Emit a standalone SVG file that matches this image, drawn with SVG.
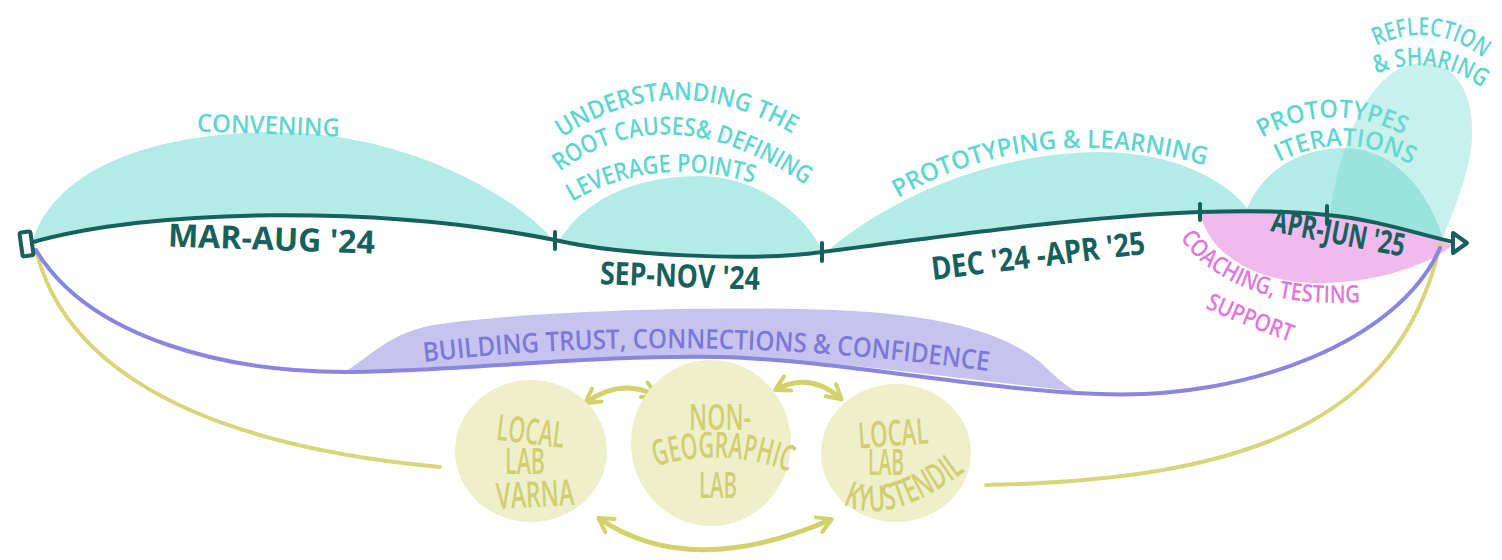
<svg xmlns="http://www.w3.org/2000/svg" width="1502" height="560" viewBox="0 0 1502 560">
<style>
.hand{font-family:"Open Sans","DejaVu Sans",sans-serif;font-weight:600;}
.teal{fill:#5ed6cf;font-size:25px;}
.date{fill:#17605c;font-size:32px;font-weight:700;}
.pink{fill:#e475dc;font-size:24px;}
.purp{fill:#7c78da;font-size:27px;}
.lab{fill:#cfcf72;font-size:36px;text-anchor:middle;}
.hump{fill:#b3ece7;}
.tl{fill:none;stroke:#17605c;stroke-width:4;stroke-linecap:round;}
.tick{stroke:#17605c;stroke-width:4;stroke-linecap:round;}
.yl{fill:none;stroke:#d6d67a;stroke-width:4;stroke-linecap:round;}
.pl{fill:none;stroke:#8a86e0;stroke-width:4;stroke-linecap:round;}
.circ{fill:#efefcc;}
.arr{fill:none;stroke:#d2d26a;stroke-width:5;stroke-linecap:round;stroke-linejoin:round;}
</style>
<defs>
<marker id="ah" viewBox="0 0 10 10" refX="7" refY="5" markerWidth="4" markerHeight="4" orient="auto-start-reverse" markerUnits="strokeWidth">
<path d="M1,1 L8,5 L1,9" fill="none" stroke="#d2d26a" stroke-width="2" stroke-linecap="round" stroke-linejoin="round"/>
</marker>
<path id="p-und1" d="M562,138 Q680,58 812,146"/>
<path id="p-und2" d="M560,172 Q675,85 826,200"/>
<path id="p-und3" d="M572,202 Q660,150 768,188"/>
<path id="p-proto" d="M898,198 Q1040,116 1214,168"/>
<path id="p-pi1" d="M1262,138 Q1332,98 1406,136"/>
<path id="p-pi2" d="M1279,162 Q1346,128 1413,166"/>
<path id="p-ref1" d="M1376,46 Q1436,18 1488,62"/>
<path id="p-ref2" d="M1376,74 Q1436,50 1490,94"/>
<path id="p-coach" d="M1180,238 Q1232,310 1362,302"/>
<path id="p-supp" d="M1205,308 Q1245,326 1296,344"/>
<path id="p-build" d="M424,362 Q700,330 994,372"/>
<path id="p-geo" d="M652,468 Q720,445 793,473"/>
<path id="p-kyu" d="M836,500 Q885,534 972,466"/>
</defs>

<!-- phase humps -->
<g id="convening">
<path class="hump" d="M32,243 C60,150 200,128 300,133 C420,140 520,200 553,240 C380,205 150,208 32,243 Z"/>
<text class="hand teal" x="197" y="134" font-size="27" textLength="143" lengthAdjust="spacingAndGlyphs" transform="rotate(2 268 124)">CONVENING</text>
</g>
<g id="understanding">
<path class="hump" d="M558,242 C590,190 650,176 700,176 C760,177 805,215 822,250 C750,262 620,255 558,242 Z"/>
<text class="hand teal" font-size="23"><textPath href="#p-und1" textLength="245" lengthAdjust="spacingAndGlyphs">UNDERSTANDING THE</textPath></text>
<text class="hand teal" font-size="23"><textPath href="#p-und2" textLength="265" lengthAdjust="spacingAndGlyphs">ROOT CAUSES&amp; DEFINING</textPath></text>
<text class="hand teal" font-size="22"><textPath href="#p-und3" textLength="188" lengthAdjust="spacingAndGlyphs">LEVERAGE POINTS</textPath></text>
</g>
<g id="prototyping">
<path class="hump" d="M826,252 C900,190 1000,153 1100,152 C1180,152 1232,185 1250,212 L1200,212 C1100,215 950,235 826,252 Z"/>
<text class="hand teal" font-size="26"><textPath href="#p-proto" textLength="318" lengthAdjust="spacingAndGlyphs">PROTOTYPING &amp; LEARNING</textPath></text>
</g>
<g id="iterations">
<path class="hump" d="M1246,211 C1262,170 1300,148 1345,148 C1400,149 1432,200 1444,241 C1420,232 1380,220 1327,215 C1300,212 1270,211 1246,211 Z"/>
<text class="hand teal" font-size="26"><textPath href="#p-pi1" textLength="148" lengthAdjust="spacingAndGlyphs">PROTOTYPES</textPath></text>
<text class="hand teal" font-size="26"><textPath href="#p-pi2" textLength="138" lengthAdjust="spacingAndGlyphs">ITERATIONS</textPath></text>
</g>
<g id="reflection">
<path fill="#76dad0" fill-opacity="0.4" d="M1330,216 C1338,150 1368,66 1420,63 C1472,60 1482,128 1464,180 C1456,208 1446,228 1441,243 C1420,234 1380,222 1330,216 Z"/>
<text class="hand teal" font-size="24"><textPath href="#p-ref1" textLength="114" lengthAdjust="spacingAndGlyphs">REFLECTION</textPath></text>
<text class="hand teal" font-size="24"><textPath href="#p-ref2" textLength="112" lengthAdjust="spacingAndGlyphs">&amp; SHARING</textPath></text>
</g>
<g id="coaching">
<path fill="#f0bbec" d="M1200,212 C1210,262 1270,286 1330,283 C1400,279 1440,256 1453,245 C1420,234 1380,220 1327,215 C1300,212 1260,210 1200,212 Z"/>
<text class="hand pink"><textPath href="#p-coach" textLength="200" lengthAdjust="spacingAndGlyphs">COACHING, TESTING</textPath></text>
<text class="hand pink"><textPath href="#p-supp" textLength="92" lengthAdjust="spacingAndGlyphs">SUPPORT</textPath></text>
</g>
<g id="trust">
<path fill="#c6c4ef" d="M345,372 C375,352 395,330 440,324 C550,308 800,304 890,314 C965,322 1010,338 1040,362 C1055,376 1065,386 1076,391 C980,382 840,360 720,357 C600,354 450,372 345,372 Z"/>
<text class="hand purp"><textPath href="#p-build" textLength="566" lengthAdjust="spacingAndGlyphs">BUILDING  TRUST, CONNECTIONS  &amp; CONFIDENCE</textPath></text>
</g>

<!-- connectors -->
<g id="connectors">
<path class="yl" d="M36,250 C58,340 150,440 440,467"/>
<path class="yl" d="M986,485 C1250,480 1400,420 1440,245"/>
<path class="pl" d="M36,250 C90,340 230,372 345,372 C450,372 600,354 720,357 C840,360 980,390 1100,394 C1250,400 1400,340 1440,248"/>
<path class="tl" d="M30,243 C150,208 380,205 555,240 C620,255 750,262 822,252 C950,235 1100,215 1200,212 C1260,210 1300,212 1327,215 C1380,220 1420,235 1458,243"/>
<line class="tick" x1="555" y1="232" x2="555" y2="249"/>
<line class="tick" x1="822" y1="243" x2="822" y2="261"/>
<line class="tick" x1="1200" y1="204" x2="1200" y2="220"/>
<line class="tick" x1="1327" y1="206" x2="1327" y2="224"/>
<path d="M1453,233 L1467,243 L1453,253 Z" fill="#ffffff" stroke="#17605c" stroke-width="4" stroke-linejoin="round"/>
<rect x="21" y="232" width="11" height="24" rx="2" fill="#ffffff" stroke="#17605c" stroke-width="4" transform="rotate(-8 26 244)"/>
<path class="arr" marker-start="url(#ah)" marker-end="url(#ah)" d="M587,402 Q620,378 655,395"/>
<path class="arr" marker-start="url(#ah)" marker-end="url(#ah)" d="M777,389 Q810,372 840,398"/>
<path class="arr" marker-start="url(#ah)" marker-end="url(#ah)" d="M600,519 Q690,580 830,520"/>
</g>

<!-- date labels -->
<g id="dates">
<text class="hand date" x="168" y="250" textLength="207" lengthAdjust="spacingAndGlyphs" transform="rotate(2 270 238)">MAR-AUG '24</text>
<text class="hand date" x="600" y="287" textLength="160" lengthAdjust="spacingAndGlyphs" transform="rotate(2 680 275)">SEP-NOV '24</text>
<text class="hand date" x="930" y="267" textLength="215" lengthAdjust="spacingAndGlyphs" transform="rotate(-7 1037 252)">DEC '24 -APR '25</text>
<text class="hand date" x="1270" y="244" font-size="26" textLength="135" lengthAdjust="spacingAndGlyphs" transform="rotate(11 1337 238)">APR-JUN '25</text>
</g>

<!-- labs -->
<g id="lab-varna">
<ellipse class="circ" cx="531" cy="451" rx="76" ry="71"/>
<text class="hand lab" x="531" y="444" textLength="68" lengthAdjust="spacingAndGlyphs" transform="rotate(7 531 430)">LOCAL</text>
<text class="hand lab" x="525" y="474" textLength="40" lengthAdjust="spacingAndGlyphs">LAB</text>
<text class="hand lab" x="535" y="507" textLength="78" lengthAdjust="spacingAndGlyphs" transform="rotate(-3 535 493)">VARNA</text>
</g>
<g id="lab-nongeo">
<ellipse class="circ" cx="711" cy="443" rx="80" ry="83"/>
<text class="hand lab" x="720" y="430" textLength="62" lengthAdjust="spacingAndGlyphs">NON-</text>
<text class="hand lab" font-size="32"><textPath href="#p-geo" startOffset="50%" textLength="136" lengthAdjust="spacingAndGlyphs">GEOGRAPHIC</textPath></text>
<text class="hand lab" x="718" y="498" textLength="38" lengthAdjust="spacingAndGlyphs">LAB</text>
</g>
<g id="lab-kyustendil">
<ellipse class="circ" cx="896" cy="453" rx="75" ry="69"/>
<text class="hand lab" x="893" y="446" textLength="70" lengthAdjust="spacingAndGlyphs" transform="rotate(-4 893 432)">LOCAL</text>
<text class="hand lab" x="886" y="475" font-size="33" textLength="36" lengthAdjust="spacingAndGlyphs">LAB</text>
<text class="hand lab" font-size="30"><textPath href="#p-kyu" startOffset="50%" textLength="134" lengthAdjust="spacingAndGlyphs">KYUSTENDIL</textPath></text>
</g>
</svg>
